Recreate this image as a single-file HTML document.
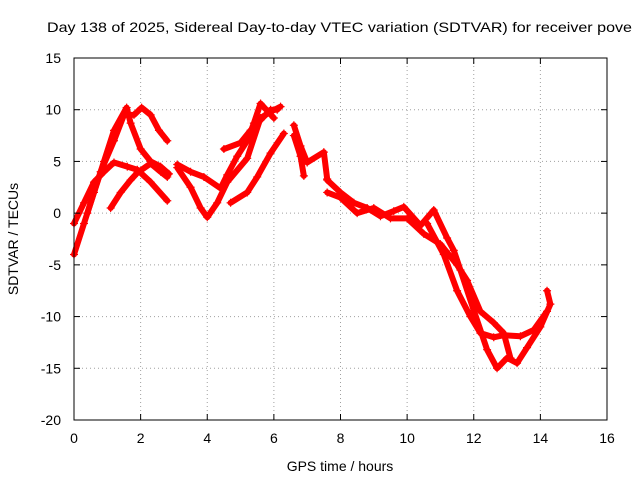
<!DOCTYPE html>
<html><head><meta charset="utf-8"><style>
body{margin:0;background:#fff}
svg{display:block;font-family:"Liberation Sans",sans-serif}
</style></head><body>
<svg id="chart" width="640" height="480">
<text x="47" y="32" font-size="14" textLength="585" lengthAdjust="spacingAndGlyphs">Day 138 of 2025, Sidereal Day-to-day VTEC variation (SDTVAR) for receiver pove</text>
<text x="340" y="471" font-size="14" text-anchor="middle">GPS time / hours</text>
<text transform="translate(18,239) rotate(-90)" font-size="14" text-anchor="middle">SDTVAR / TECUs</text>
<g id="grid"></g><g id="series"></g><g id="axes"></g>
</svg>
<script>
const xTicks=[0,2,4,6,8,10,12,14,16];
const yTicks=[15,10,5,0,-5,-10,-15,-20];
const track1=[[0,-4],[0.3,-1],[0.6,2],[0.9,5],[1.2,8],[1.58,10.2],[1.7,8.7],[2.0,6.2],[2.3,5],[2.6,4.5],[2.85,3.8]];
const track2=[[0,-1],[0.3,1],[0.6,3],[0.9,4],[1.2,4.9],[1.6,4.5],[1.9,4.2],[2.3,3],[2.8,1.2]];
const track3=[[1.1,0.5],[1.4,2],[1.7,3.2],[1.9,3.9],[2.3,4.8],[2.6,4],[2.8,3.5]];
const track4=[[0.4,0],[0.8,4],[1.2,7],[1.5,9.5],[1.8,9.5],[2.03,10.2],[2.3,9.5],[2.55,8],[2.8,7]];
const track5=[[3.1,4.7],[3.5,4],[3.9,3.5],[4.4,2.4],[4.6,3.7],[4.9,5.5],[5.2,7],[5.4,8.7],[5.6,10.6],[6.0,9.2]];
const track6=[[3.1,4.4],[3.5,2.5],[3.8,0.5],[4.0,-0.4],[4.3,1],[4.6,3],[5.2,5.3],[5.6,9.2],[5.9,9.8],[6.2,10.3]];
const track7=[[4.5,6.2],[5.0,6.8],[5.3,8],[5.6,9],[5.9,10],[6.1,10]];
const track8=[[4.7,1.0],[5.2,2.0],[5.5,3.5],[5.9,5.8],[6.3,7.7]];
const track9=[[6.6,8.5],[6.8,6.5],[7.0,4.9],[7.5,5.9],[7.6,3.3]];
const track10=[[6.6,7.5],[6.8,5.5],[6.9,3.6]];
const track11=[[7.6,3.2],[8.0,2],[8.4,1],[8.8,0.5],[9.2,-0.3],[9.6,0.2],[9.9,0.6],[10.4,-1.2],[10.8,0.3],[11.2,-2.4],[11.4,-3.6],[11.6,-5.5],[12.0,-9.4],[12.4,-13.2],[12.7,-15],[13.0,-14],[13.3,-14.5],[13.6,-13],[14.0,-11],[14.3,-8.8],[14.2,-7.5]];
const track12=[[7.6,2],[8.0,1.5],[8.5,0],[9.0,0.5],[9.5,-0.5],[10.0,-0.5],[10.5,-2],[11.0,-3],[11.5,-5],[11.8,-6.5],[12.2,-9.5],[12.6,-10.6],[12.9,-11.6],[13.1,-14]];
const track13=[[10.6,-1],[11.1,-4],[11.5,-7.5],[11.9,-10],[12.2,-11.6],[12.6,-12.0],[12.9,-11.8],[13.4,-11.9],[13.8,-11.3],[14.2,-9.5]];
const tracks=[track1,track2,track3,track4,track5,track6,track7,track8,track9,track10,track11,track12,track13];
const L=74,R=607,T=58,B=420;
const X=v=>L+(v-0)/16*(R-L);
const Y=v=>B-(v+20)/35*(B-T);
const NS="http://www.w3.org/2000/svg";
function mk(tag,attrs,parent){const e=document.createElementNS(NS,tag);for(const k in attrs)e.setAttribute(k,attrs[k]);parent.appendChild(e);return e;}
const grid=document.getElementById('grid'),axes=document.getElementById('axes'),ser=document.getElementById('series');
xTicks.forEach(t=>{
 const g=mk('line',{x1:X(t),x2:X(t),y1:T,y2:B,stroke:'#a0a0a0','stroke-dasharray':'1,3'},grid);
 
 
 mk('line',{x1:X(t),x2:X(t),y1:B,y2:B-6,stroke:'#000'},axes);
 mk('line',{x1:X(t),x2:X(t),y1:T,y2:T+6,stroke:'#000'},axes);
 const lb=mk('text',{x:X(t),y:B+23,'font-size':14,'text-anchor':'middle'},axes);
 lb.textContent=t;
 
 
});
yTicks.forEach(t=>{
 const g=mk('line',{x1:L,x2:R,y1:Y(t),y2:Y(t),stroke:'#a0a0a0','stroke-dasharray':'1,3'},grid);
 
 
 mk('line',{x1:L,x2:L+6,y1:Y(t),y2:Y(t),stroke:'#000'},axes);
 mk('line',{x1:R,x2:R-6,y1:Y(t),y2:Y(t),stroke:'#000'},axes);
 const lb=mk('text',{x:L-13,y:Y(t)+5,'font-size':14,'text-anchor':'end'},axes);
 lb.textContent=t;
 
 
});
const fr=mk('rect',{x:L,y:T,width:R-L,height:B-T,fill:'none',stroke:'#000'},axes);


tracks.forEach(tr=>{
 const p=mk('polyline',{points:tr.map(d=>X(d[0])+','+Y(d[1])).join(' '),fill:'none',stroke:'#f00','stroke-width':6,'stroke-linejoin':'round','stroke-linecap':'round'},ser);
 
 
 tr.forEach(d=>{
  const x=X(d[0]),y=Y(d[1]);
  const m=mk('path',{d:`M${x-4},${y}h8M${x},${y-4}v8`,stroke:'#f00','stroke-width':1.2},ser);
  
  
 });
});
</script>
</body></html>
